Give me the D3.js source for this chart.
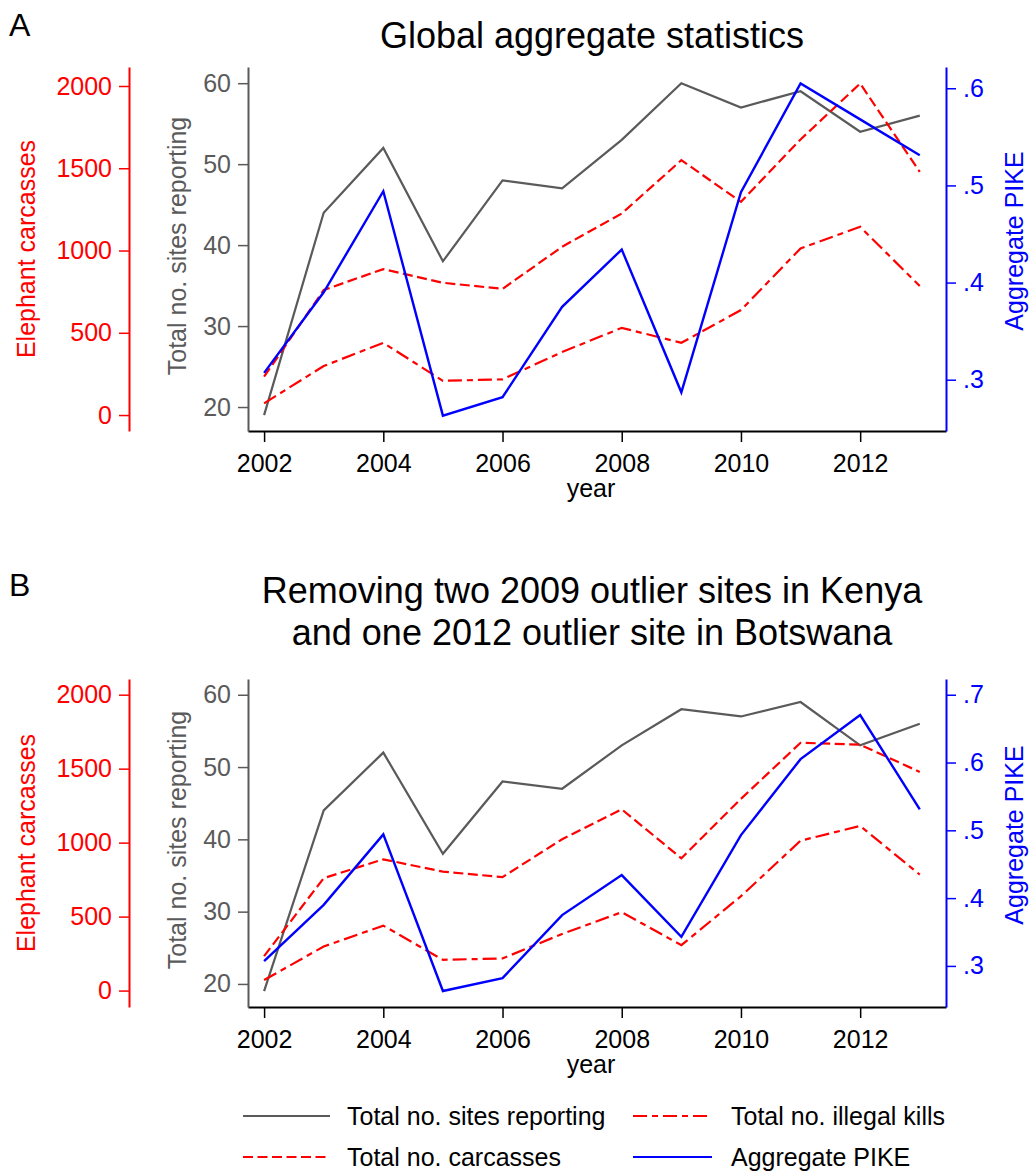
<!DOCTYPE html>
<html><head><meta charset="utf-8">
<script src="https://cdn.jsdelivr.net/npm/d3@7"></script>
<style>
body{margin:0;background:#fff;}
svg{display:block;font-family:"Liberation Sans",Arial,Helvetica,sans-serif;}
</style></head>
<body>
<svg id="c" width="1031" height="1173"></svg>
<script>
const years = [2002,2003,2004,2005,2006,2007,2008,2009,2010,2011,2012,2013];
// Panel A: global aggregate
const sitesA    = [19,44,52,38,48,47,53,60,57,59,54,56];
const carcassA  = [233,760,887,804,767,1023,1225,1549,1296,1675,2015,1478];
const illegalA  = [71,298,439,208,217,383,530,439,638,1013,1144,784];
const pikeA     = [0.307,0.390,0.494,0.263,0.282,0.375,0.434,0.287,0.493,0.605,0.568,0.531];
// Panel B: outliers removed
const sitesB    = [19,44,52,38,48,47,53,58,57,59,53,56];
const carcassB  = [233,760,887,804,767,1023,1225,894,1296,1675,1662,1478];
const illegalB  = [71,298,439,208,217,383,530,307,638,1013,1113,784];
const pikeB     = [0.307,0.390,0.494,0.263,0.282,0.375,0.434,0.343,0.493,0.605,0.670,0.531];
// tick labels
const xTicks = [2002,2004,2006,2008,2010,2012];
const carcTicks = [0,500,1000,1500,2000];
const siteTicks = [20,30,40,50,60];
const pikeTicksA = [0.3,0.4,0.5,0.6];
const pikeTicksB = [0.3,0.4,0.5,0.6,0.7];
const legendItems = ["Total no. sites reporting","Total no. carcasses","Total no. illegal kills","Aggregate PIKE"];

const svg = d3.select("#c");
const RED="#ff0000", GRAY="#5a5a5a", BLUE="#0000ff";
const DASH_CARC="10,4.5", DASH_ILL="14,5,6,5";
const FS=25;

function panel(o){
  const g = svg.append("g");
  const x = d3.scaleLinear().domain([2001.73,2013.44]).range([248,946]);
  const ys = d3.scaleLinear().domain(o.siteDom).range([o.bottom,o.top]);
  const yc = d3.scaleLinear().domain(o.carcDom).range([o.bottom,o.top]);
  const yp = d3.scaleLinear().domain(o.pikeDom).range([o.bottom,o.top]);

  // x axis
  const xa = g.append("g").attr("transform",`translate(0,${o.bottom})`)
    .call(d3.axisBottom(x).tickValues(xTicks).tickFormat(d3.format("d")).tickSize(11).tickPadding(12).tickSizeOuter(0));
  xa.select(".domain").attr("stroke","#000").attr("stroke-width",2);
  xa.selectAll(".tick line").attr("stroke","#000").attr("stroke-width",1.5);
  xa.selectAll("text").attr("font-size",FS).attr("fill","#000").attr("font-family","Liberation Sans, Arial, sans-serif");
  g.append("text").attr("x",591).attr("y",o.bottom+66).attr("text-anchor","middle")
    .attr("font-size",FS).text("year");

  // gray sites axis
  const ga = g.append("g").attr("transform",`translate(248,0)`)
    .call(d3.axisLeft(ys).tickValues(siteTicks).tickFormat(d3.format("d")).tickSize(10).tickPadding(7).tickSizeOuter(0));
  ga.select(".domain").attr("stroke",GRAY).attr("stroke-width",2);
  ga.selectAll(".tick line").attr("stroke",GRAY).attr("stroke-width",1.5);
  ga.selectAll("text").attr("font-size",FS).attr("fill",GRAY).attr("font-family","Liberation Sans, Arial, sans-serif");
  const mid=(o.top+o.bottom)/2;
  g.append("text").attr("transform",`translate(186,${mid-3}) rotate(-90)`).attr("text-anchor","middle")
    .attr("font-size",FS).attr("fill",GRAY).text("Total no. sites reporting");

  // red carcass axis
  const ra = g.append("g").attr("transform",`translate(129,0)`)
    .call(d3.axisLeft(yc).tickValues(carcTicks).tickFormat(d3.format("d")).tickSize(10).tickPadding(7).tickSizeOuter(0));
  ra.select(".domain").attr("stroke",RED).attr("stroke-width",2);
  ra.selectAll(".tick line").attr("stroke",RED).attr("stroke-width",1.5);
  ra.selectAll("text").attr("font-size",FS).attr("fill",RED).attr("font-family","Liberation Sans, Arial, sans-serif");
  g.append("text").attr("transform",`translate(35,${mid}) rotate(-90)`).attr("text-anchor","middle")
    .attr("font-size",FS).attr("fill",RED).text("Elephant carcasses");

  // blue pike axis
  const ba = g.append("g").attr("transform",`translate(946,0)`)
    .call(d3.axisRight(yp).tickValues(o.pikeTicks).tickFormat(d=>d3.format(".1f")(d).replace(/^0/,""))
      .tickSize(10).tickPadding(7).tickSizeOuter(0));
  ba.select(".domain").attr("stroke",BLUE).attr("stroke-width",2);
  ba.selectAll(".tick line").attr("stroke",BLUE).attr("stroke-width",1.5);
  ba.selectAll("text").attr("font-size",FS).attr("fill",BLUE).attr("font-family","Liberation Sans, Arial, sans-serif");
  g.append("text").attr("transform",`translate(1023,${mid-8}) rotate(-90)`).attr("text-anchor","middle")
    .attr("font-size",FS).attr("fill",BLUE).text("Aggregate PIKE");

  const line = (ysc)=>d3.line().x((d,i)=>x(years[i])).y(d=>ysc(d));
  g.append("path").datum(o.sites).attr("d",line(ys)).attr("fill","none").attr("stroke",GRAY).attr("stroke-width",2.2);
  g.append("path").datum(o.carc).attr("d",line(yc)).attr("fill","none").attr("stroke",RED).attr("stroke-width",2.2).attr("stroke-dasharray",DASH_CARC);
  g.append("path").datum(o.ill).attr("d",line(yc)).attr("fill","none").attr("stroke",RED).attr("stroke-width",2.2).attr("stroke-dasharray",DASH_ILL);
  g.append("path").datum(o.pike).attr("d",line(yp)).attr("fill","none").attr("stroke",BLUE).attr("stroke-width",2.4);
}

panel({top:67,bottom:431,siteDom:[17.04,62.0],carcDom:[-97,2115.5],pikeDom:[0.2472,0.6219],pikeTicks:pikeTicksA,
  sites:sitesA,carc:carcassA,ill:illegalA,pike:pikeA});
panel({top:679,bottom:1007,siteDom:[16.81,62.18],carcDom:[-111,2106],pikeDom:[0.2394,0.7232],pikeTicks:pikeTicksB,
  sites:sitesB,carc:carcassB,ill:illegalB,pike:pikeB});

// titles
svg.append("text").attr("x",9).attr("y",36).attr("font-size",32).text("A");
svg.append("text").attr("x",9).attr("y",596).attr("font-size",32).text("B");
svg.append("text").attr("x",592).attr("y",48).attr("text-anchor","middle").attr("font-size",36).text("Global aggregate statistics");
svg.append("text").attr("x",592).attr("y",603).attr("text-anchor","middle").attr("font-size",36).text("Removing two 2009 outlier sites in Kenya");
svg.append("text").attr("x",592).attr("y",645).attr("text-anchor","middle").attr("font-size",36).text("and one 2012 outlier site in Botswana");

// legend
const lg = svg.append("g");
const legPos = [
  {x1:243,x2:330,tx:347,y:1116,c:GRAY,d:null},
  {x1:243,x2:330,tx:347,y:1157,c:RED,d:DASH_CARC},
  {x1:633,x2:712,tx:731,y:1116,c:RED,d:DASH_ILL},
  {x1:633,x2:712,tx:731,y:1157,c:BLUE,d:null}
];
legendItems.forEach((t,i)=>{
  const p=legPos[i];
  lg.append("line").attr("x1",p.x1).attr("x2",p.x2).attr("y1",p.y).attr("y2",p.y)
    .attr("stroke",p.c).attr("stroke-width",2.2).attr("stroke-dasharray",p.d);
  lg.append("text").attr("x",p.tx).attr("y",p.y).attr("dy","0.35em").attr("font-size",FS).text(t);
});
</script>
</body></html>
